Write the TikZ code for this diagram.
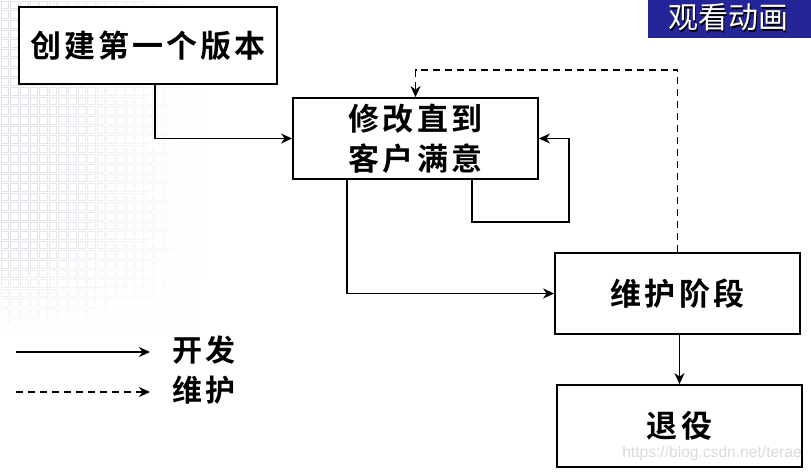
\documentclass[tikz,border=0pt]{standalone}
\usepackage{fontspec}
\setmainfont{Liberation Sans}
\newfontfamily\cjkb{Noto Sans CJK SC Bold}[LetterSpace=10]
\newfontfamily\cjkr{Noto Sans CJK SC}
\usetikzlibrary{arrows.meta}
\definecolor{navy}{HTML}{25259A}
\definecolor{gridc}{HTML}{B8BDCC}
\tikzset{
  box/.style={draw=black, line width=1.8pt, fill=white, inner sep=0pt, text width=#1, align=center, font=\cjkb\fontsize{31}{40}\selectfont},
  conn/.style={line width=1.6pt, -{Stealth[length=11pt,width=10pt,inset=3.5pt]}},
  maint/.style={conn, dash pattern=on 7pt off 5pt},
  legtext/.style={anchor=west, inner sep=0pt, font=\cjkb\fontsize{30}{30}\selectfont},
}
\begin{document}
\begin{tikzpicture}[x=1pt,y=-1pt]
\useasboundingbox (0,0) rectangle (811,472);
\fill[white] (0,0) rectangle (811,472);
% faint background grid
\foreach \i in {0,...,20}{
  \foreach \j in {0,...,34}{
    \pgfmathsetmacro{\op}{0.45*(1-\i/21)*min(1,(35-\j)/10)}
    \draw[gridc, line width=0.6pt, opacity=\op] (\i*9.6+1,\j*9.6+1) rectangle ++(7.6,7.6);
  }
}
% button
\fill[navy] (648,0) rectangle (811,38);
\node[text=black, font=\cjkr\fontsize{30}{30}\selectfont, inner sep=0pt] (btnsh) at (729.5,19) {观看动画};
\node[text=white, font=\cjkr\fontsize{30}{30}\selectfont, inner sep=0pt] (btn) at (728,17.5) {观看动画};
% boxes
\node[box=258pt, minimum width=258pt, minimum height=77pt] (b1) at (148,45.5) {创建第一个版本};
\node[box=245pt, minimum width=245pt, minimum height=81pt] (b2) at (415.5,138.5) {修改直到\\客户满意};
\node[box=245pt, minimum width=245pt, minimum height=81pt] (b3) at (677.5,293.5) {维护阶段};
\node[box=245pt, minimum width=245pt, minimum height=82pt] (b4) at (679.5,426) {退役};
% connectors
\coordinate (loopb) at (0,222);
\coordinate (loopr) at (569,0);
\coordinate (dtop) at (0,70);
\draw[conn] ([xshift=7pt]b1.south) |- (b2.west);
\draw[conn] ([xshift=56.5pt]b2.south) -- ([xshift=56.5pt]b2.south |- loopb) -| (loopr |- b2.east) -- (b2.east);
\draw[conn] ([xshift=-68.5pt]b2.south) |- (b3.west);
\draw[maint] (b3.north) -- (b3.north |- dtop) -| (b2.north);
\draw[conn] (b3.south -| b4.north) -- (b4.north);
% legend
\coordinate (l1s) at (16,352);
\coordinate (l1e) at (150,352);
\coordinate (l2s) at (16,392);
\coordinate (l2e) at (150,392);
\draw[conn] (l1s) -- (l1e);
\draw[maint] (l2s) -- (l2e);
\node[legtext] (lt1) at (172,350) {开发};
\node[legtext] (lt2) at (172,390) {维护};
% watermark
\node[text=black!14, font=\fontsize{15.6}{16}\selectfont, anchor=east, inner sep=0pt] (wm) at (802,453) {https://blog.csdn.net/terae};
\end{tikzpicture}
\end{document}
